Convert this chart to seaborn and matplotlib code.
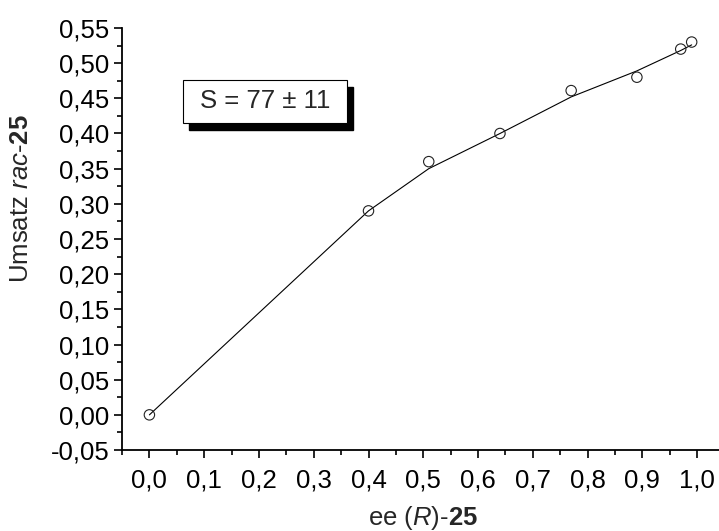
import matplotlib
matplotlib.use("Agg")
import matplotlib.pyplot as plt
import matplotlib.patches as mpatches
from matplotlib.ticker import MultipleLocator, FixedLocator, FixedFormatter
import seaborn as sns
import pandas as pd

# Data
ee_values = [0.0, 0.40, 0.51, 0.64, 0.77, 0.89, 0.97, 0.99]
conversion = [0.0, 0.29, 0.36, 0.40, 0.461, 0.48, 0.52, 0.53]
fit_values = [0.0, 0.29, 0.350, 0.400, 0.452, 0.489, 0.518, 0.526]

x_ticks = [0.0, 0.1, 0.2, 0.3, 0.4, 0.5, 0.6, 0.7, 0.8, 0.9, 1.0]
x_tick_labels = ["0,0", "0,1", "0,2", "0,3", "0,4", "0,5", "0,6", "0,7", "0,8", "0,9", "1,0"]
y_ticks = [-0.05, 0.0, 0.05, 0.10, 0.15, 0.20, 0.25, 0.30, 0.35, 0.40, 0.45, 0.50, 0.55]
y_tick_labels = ["-0,05", "0,00", "0,05", "0,10", "0,15", "0,20", "0,25", "0,30",
                 "0,35", "0,40", "0,45", "0,50", "0,55"]
box_text = "S = 77 ± 11"

sns.set_style("ticks")
plt.rcParams["font.family"] = ["Liberation Sans", "DejaVu Sans"]
plt.rcParams["mathtext.fontset"] = "custom"
plt.rcParams["mathtext.rm"] = "Liberation Sans"
plt.rcParams["mathtext.it"] = "Liberation Sans:italic"
plt.rcParams["mathtext.bf"] = "Liberation Sans:bold"

FS = 18.5

fig = plt.figure(figsize=(7.19, 5.31), dpi=100)
ax = fig.add_axes([0.1697, 0.1525, 0.838, 0.7948])

df_fit = pd.DataFrame({"ee": ee_values, "fit": fit_values})
df_pts = pd.DataFrame({"ee": ee_values, "conv": conversion})

sns.lineplot(data=df_fit, x="ee", y="fit", ax=ax, color="black", linewidth=0.8,
             sort=False, estimator=None)
sns.scatterplot(data=df_pts, x="ee", y="conv", ax=ax, marker="o", s=56,
                facecolor="none", edgecolor="#222222", linewidth=0.8, zorder=3)

ax.set_xlim(-0.05, 1.05)
ax.set_ylim(-0.05, 0.55)

ax.xaxis.set_major_locator(FixedLocator(x_ticks))
ax.xaxis.set_major_formatter(FixedFormatter(x_tick_labels))
ax.yaxis.set_major_locator(FixedLocator(y_ticks))
ax.yaxis.set_major_formatter(FixedFormatter(y_tick_labels))
ax.xaxis.set_minor_locator(MultipleLocator(0.05))
ax.yaxis.set_minor_locator(MultipleLocator(0.025))

ax.tick_params(axis="both", which="major", direction="out", length=6, width=1.2,
               labelsize=FS, color="black", labelcolor="black")
ax.tick_params(axis="both", which="minor", direction="out", length=3.5, width=1.2,
               color="black")
ax.tick_params(axis="y", which="major", pad=3)
ax.tick_params(axis="x", which="major", pad=7)

for side in ["top", "right"]:
    ax.spines[side].set_visible(False)
for side in ["left", "bottom"]:
    ax.spines[side].set_linewidth(1.3)
    ax.spines[side].set_color("black")

ax.set_xlabel(r"ee ($\mathit{R}$)-$\mathbf{25}$", fontsize=FS)
ax.set_ylabel(r"Umsatz $\mathit{rac}$-$\mathbf{25}$", fontsize=FS)
ax.xaxis.set_label_coords(0.499, -0.128)
ax.yaxis.set_label_coords(-0.148, 0.595)

# Text box with shadow (axes fraction)
bx, by, bw, bh = 0.1007, 0.7749, 0.2723, 0.1019
dx, dy = 0.0108, -0.0166
shadow = mpatches.Rectangle((bx + dx, by + dy), bw, bh, transform=ax.transAxes,
                            facecolor="black", edgecolor="black", zorder=4, clip_on=False)
box = mpatches.Rectangle((bx, by), bw, bh, transform=ax.transAxes,
                         facecolor="white", edgecolor="black", linewidth=0.8,
                         zorder=5, clip_on=False)
ax.add_patch(shadow)
ax.add_patch(box)
ax.text(bx + bw / 2, by + bh / 2, box_text, transform=ax.transAxes, fontsize=FS,
        ha="center", va="center", zorder=6)

fig.savefig("out.png", dpi=100)
